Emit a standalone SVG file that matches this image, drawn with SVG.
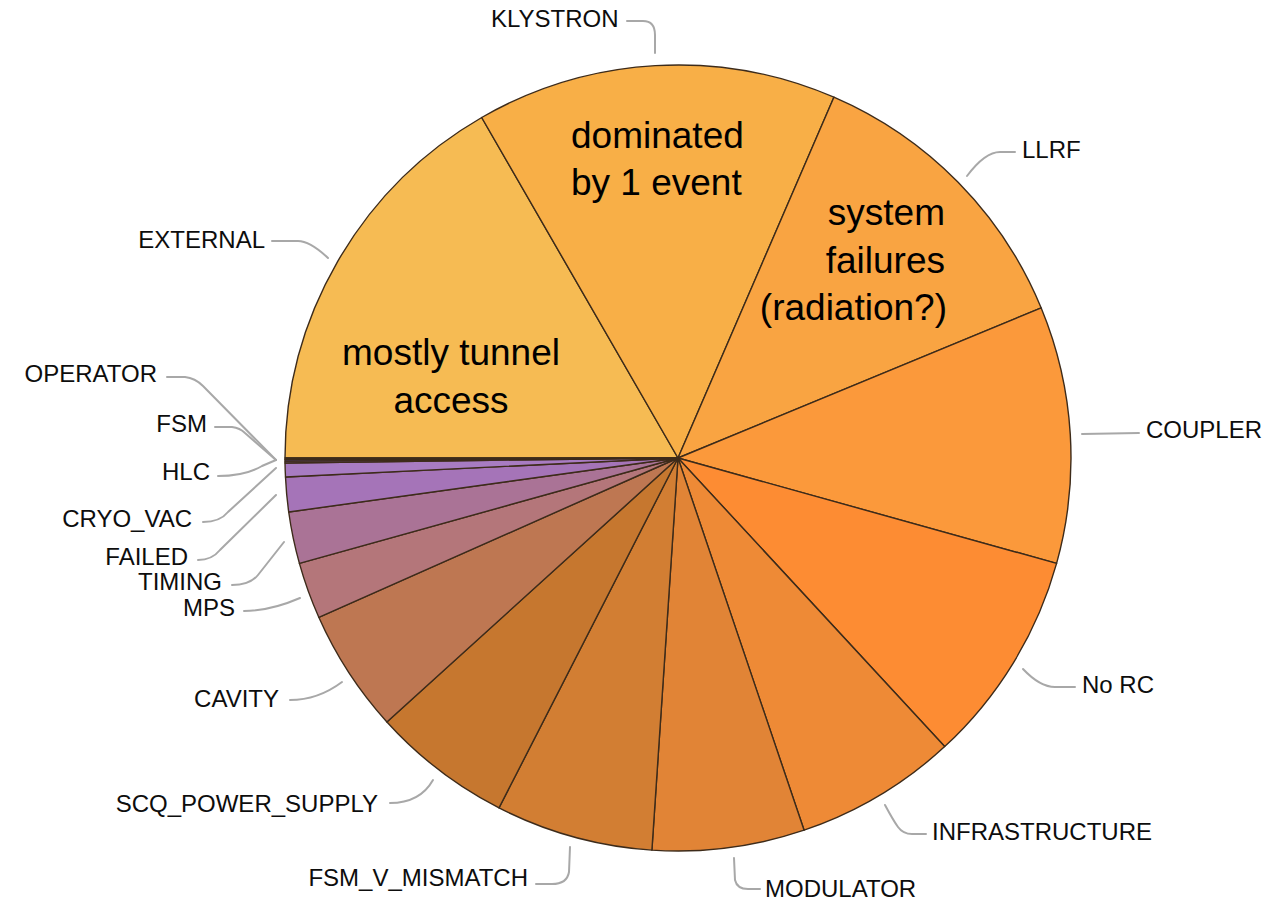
<svg xmlns="http://www.w3.org/2000/svg" width="1269" height="902" viewBox="0 0 1269 902">
<style>
.s{stroke:#3d2b1a;stroke-width:1.4;stroke-linejoin:round}
.lbl{font-family:"Liberation Sans",Arial,sans-serif;font-size:24px;fill:#0d0d0d}
.ann{font-family:"Liberation Sans",Arial,sans-serif;font-size:37px;fill:#000}
.ld{fill:none;stroke:#a8a8a8;stroke-width:2;stroke-linecap:round}
.e{text-anchor:end}
.m{text-anchor:middle}
</style>
<rect width="1269" height="902" fill="#fff"/>
<g id="pie">
<g id="slice-external"><path class="s" fill="#F6BB53" d="M678 458 L285 458 A393 393 0 0 1 481.7 117.5 Z"/></g>
<g id="slice-klystron"><path class="s" fill="#F8AF47" d="M678 458 L481.7 117.5 A393 393 0 0 1 833.9 97.2 Z"/></g>
<g id="slice-llrf"><path class="s" fill="#F9A442" d="M678 458 L833.9 97.2 A393 393 0 0 1 1041.2 307.9 Z"/></g>
<g id="slice-coupler"><path class="s" fill="#FB993B" d="M678 458 L1041.2 307.9 A393 393 0 0 1 1056.6 563.4 Z"/></g>
<g id="slice-norc"><path class="s" fill="#FD8C33" d="M678 458 L1056.6 563.4 A393 393 0 0 1 944.7 746.6 Z"/></g>
<g id="slice-infrastructure"><path class="s" fill="#EE8A36" d="M678 458 L944.7 746.6 A393 393 0 0 1 804.1 830.2 Z"/></g>
<g id="slice-modulator"><path class="s" fill="#E18436" d="M678 458 L804.1 830.2 A393 393 0 0 1 651.9 850.1 Z"/></g>
<g id="slice-fsm-v-mismatch"><path class="s" fill="#D27E33" d="M678 458 L651.9 850.1 A393 393 0 0 1 499 807.9 Z"/></g>
<g id="slice-scq-power-supply"><path class="s" fill="#C6772F" d="M678 458 L499 807.9 A393 393 0 0 1 386.9 722 Z"/></g>
<g id="slice-cavity"><path class="s" fill="#BE7752" d="M678 458 L386.9 722 A393 393 0 0 1 318.8 617.3 Z"/></g>
<g id="slice-mps"><path class="s" fill="#B4767A" d="M678 458 L318.8 617.3 A393 393 0 0 1 299.4 563.4 Z"/></g>
<g id="slice-timing"><path class="s" fill="#AA7396" d="M678 458 L299.4 563.4 A393 393 0 0 1 288.7 512 Z"/></g>
<g id="slice-failed"><path class="s" fill="#A574B8" d="M678 458 L288.7 512 A393 393 0 0 1 285.5 477 Z"/></g>
<g id="slice-cryo-vac"><path class="s" fill="#A87CC2" d="M678 458 L285.5 477 A393 393 0 0 1 285 463 Z"/></g>
<g id="slice-hlc"><path class="s" fill="#7D5C9C" d="M678 458 L285 463 A393 393 0 0 1 285 461.1 Z"/></g>
<g id="slice-fsm"><path class="s" fill="#4A3560" d="M678 458 L285 461.1 A393 393 0 0 1 285 459.4 Z"/></g>
<g id="slice-operator"><path class="s" fill="#2E2030" d="M678 458 L285 459.4 A393 393 0 0 1 285 458 Z"/></g>
</g>
<g id="connectors">
<path class="ld" d="M627 21 L643 21 Q655 21 655 35 L655 53"/>
<path class="ld" d="M967 176 Q985 152 1000 152 L1015 152"/>
<path class="ld" d="M272 241 L298 241 Q310 241 328 258"/>
<path class="ld" d="M1082 434 L1139 433"/>
<path class="ld" d="M1023 669 Q1040 687 1055 687 L1075 687"/>
<path class="ld" d="M885 805 Q893 820 898 827 Q903 834 912 834 L926 834"/>
<path class="ld" d="M734 858 L735 880 Q737 889 748 889 L760 889"/>
<path class="ld" d="M570 847 L569 872 Q567 884 552 884 L536 884"/>
<path class="ld" d="M433 780 Q420 803 390 803"/>
<path class="ld" d="M342 682 Q318 700 290 700"/>
<path class="ld" d="M244 611 Q270 611 300 598"/>
<path class="ld" d="M232 585 Q250 585 258 575 L284 542"/>
<path class="ld" d="M198 560 Q212 560 220 550 L276 495"/>
<path class="ld" d="M203 522 Q220 522 228 512 L276 468"/>
<path class="ld" d="M218 476 Q245 476 262 466 L276 460"/>
<path class="ld" d="M215 427 L232 427 Q240 428 245 433 L276 460"/>
<path class="ld" d="M167 377 L185 377 Q195 378 203 386 L276 460"/>
</g>
<g id="labels">
<text class="lbl" x="491" y="27">KLYSTRON</text>
<text class="lbl" x="1022" y="158">LLRF</text>
<text class="lbl e" x="265" y="248">EXTERNAL</text>
<text class="lbl" x="1146" y="438">COUPLER</text>
<text class="lbl" x="1082" y="693">No RC</text>
<text class="lbl" x="932" y="840">INFRASTRUCTURE</text>
<text class="lbl" x="765" y="897">MODULATOR</text>
<text class="lbl e" x="528" y="886">FSM_V_MISMATCH</text>
<text class="lbl e" x="378" y="812">SCQ_POWER_SUPPLY</text>
<text class="lbl e" x="279" y="707">CAVITY</text>
<text class="lbl e" x="235" y="616">MPS</text>
<text class="lbl e" x="222" y="590">TIMING</text>
<text class="lbl e" x="188" y="565">FAILED</text>
<text class="lbl e" x="192" y="527">CRYO_VAC</text>
<text class="lbl e" x="210" y="480">HLC</text>
<text class="lbl e" x="207" y="432">FSM</text>
<text class="lbl e" x="157" y="382">OPERATOR</text>
</g>
<g id="annotations">
<text class="ann" x="571" y="148">dominated</text>
<text class="ann" x="571" y="195">by 1 event</text>
<text class="ann e" x="945" y="225">system</text>
<text class="ann e" x="945" y="273">failures</text>
<text class="ann e" x="947" y="320">(radiation?)</text>
<text class="ann m" x="451" y="365">mostly tunnel</text>
<text class="ann m" x="451" y="413">access</text>
</g>
</svg>
